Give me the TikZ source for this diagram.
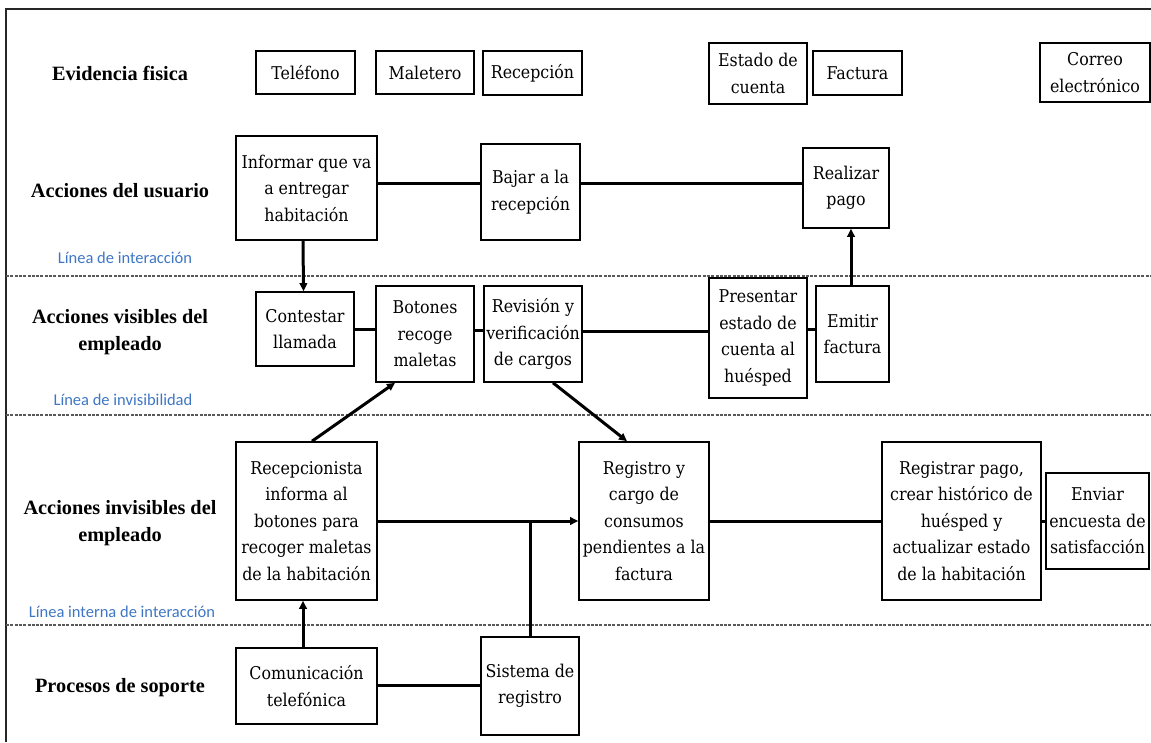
\documentclass[tikz,border=0pt]{standalone}
\usepackage{fontspec}
\newfontfamily\boxfont{DejaVu Serif Condensed}
\newfontfamily\lanefont{Liberation Serif}[BoldFont={* Bold}]
\newfontfamily\linefont{Carlito}
\usetikzlibrary{arrows.meta}
\definecolor{lineblue}{RGB}{62,118,196}
\begin{document}
\begin{tikzpicture}[x=1pt,y=-1pt,
  box/.style={draw, line width=1.6pt, inner sep=0pt, align=center,
    font=\boxfont\fontsize{17.6}{26.5}\selectfont},
  lane/.style={align=center, font=\lanefont\fontsize{20.3}{27}\selectfont\bfseries},
  sep/.style={align=center, text=lineblue, font=\linefont\fontsize{16.5}{19}\selectfont},
  divider/.style={draw=black!65, line width=1.3pt, dash pattern=on 3pt off 1.3pt},
  conn/.style={line width=3pt},
  arr/.style={line width=3pt, -{Triangle[length=8pt,width=7.5pt]}}]
\useasboundingbox (0,0) rectangle (1151,742);
% outer frame (top and left edges)
\draw[line width=1.6pt, black!85] (1151,9) -- (6,9) -- (6,742);
% lane dividers
\draw[divider] (6,276) -- (1151,276);
\draw[divider] (6,415) -- (1151,415);
\draw[divider] (6,625) -- (1151,625);
% lane titles
\node[lane] (lEvid)  at (120,73)    {Evidencia fisica};
\node[lane] (lUsu)   at (120,191)   {Acciones del usuario};
\node[lane] (lVis)   at (120,332.5) {Acciones visibles del\\empleado};
\node[lane] (lInv)   at (120,523)   {Acciones invisibles del\\empleado};
\node[lane] (lSop)   at (120,688)   {Procesos de soporte};
\node[sep]  (sInt)   at (125,258)   {Línea de interacción};
\node[sep]  (sVis)   at (123,400)   {Línea de invisibilidad};
\node[sep]  (sInt2)  at (122,612)   {Línea interna de interacción};
% physical evidence
\node[box, minimum width=99pt,  minimum height=43pt] (tel) at (305.5,72.5) {Teléfono};
\node[box, minimum width=98pt,  minimum height=43pt] (mal) at (425,72.5)   {Maletero};
\node[box, minimum width=99pt,  minimum height=44pt] (rec) at (532.5,73)   {Recepción};
\node[box, minimum width=98pt,  minimum height=61pt] (edc) at (758,73.5)   {Estado de\\cuenta};
\node[box, minimum width=89pt,  minimum height=44pt] (fac) at (857.5,73)   {Factura};
\node[box, minimum width=110pt, minimum height=59pt] (cor) at (1095,72.5)  {Correo\\electrónico};
% user actions
\node[box, minimum width=141pt, minimum height=104pt] (inf) at (306.5,188) {Informar que va\\a entregar\\habitación};
\node[box, minimum width=99pt,  minimum height=96pt]  (baj) at (530.5,192) {Bajar a la\\recepción};
\node[box, minimum width=86pt,  minimum height=80pt]  (rea) at (846,188)   {Realizar\\pago};
% visible employee actions
\node[box, minimum width=98pt, minimum height=74pt]  (con) at (305,329)   {Contestar\\llamada};
\node[box, minimum width=98pt, minimum height=96pt]  (bot) at (425,334)   {Botones\\recoge\\maletas};
\node[box, minimum width=98pt, minimum height=96pt]  (rev) at (533,334)   {Revisión y\\verificación\\de cargos};
\node[box, minimum width=98pt, minimum height=120pt] (pre) at (758,338)   {Presentar\\estado de\\cuenta al\\huésped};
\node[box, minimum width=73pt, minimum height=96pt]  (emi) at (852.5,334) {Emitir\\factura};
% invisible employee actions
\node[box, minimum width=141pt, minimum height=158pt] (rcp) at (306.5,521) {Recepcionista\\informa al\\botones para\\recoger maletas\\de la habitación};
\node[box, minimum width=130pt, minimum height=158pt] (reg) at (644,521)   {Registro y\\cargo de\\consumos\\pendientes a la\\factura};
\node[box, minimum width=159pt, minimum height=158pt] (rpa) at (961.5,521) {Registrar pago,\\crear histórico de\\huésped y\\actualizar estado\\de la habitación};
\node[box, minimum width=103pt, minimum height=96pt]  (env) at (1097.5,521) {Enviar\\encuesta de\\satisfacción};
% support processes
\node[box, minimum width=141pt, minimum height=76pt] (com) at (306.5,686) {Comunicación\\telefónica};
\node[box, minimum width=98pt,  minimum height=98pt] (sis) at (530,686)   {Sistema de\\registro};
% connectors: user actions
\draw[conn] ([yshift=5pt]inf.east) -- ([yshift=5pt]inf.east -| baj.west);
\draw[conn] ([yshift=5pt]rea.west -| baj.east) -- ([yshift=5pt]rea.west);
\draw[arr] ([xshift=-3.5pt]inf.south) -- ([xshift=-1.5pt]con.north);
\draw[arr] ([xshift=-1.5pt]emi.north) -- ([xshift=-1.5pt]emi.north |- rea.south);
% connectors: visible actions
\draw[conn] (con.east) -- (con.east -| bot.west);
\draw[conn] ([yshift=4pt]bot.east) -- ([yshift=4pt]bot.east -| rev.west);
\draw[conn] ([yshift=3pt]rev.east) -- ([yshift=3pt]rev.east -| pre.west);
\draw[conn] ([yshift=9pt]pre.east) -- ([yshift=9pt]pre.east -| emi.west);
\draw[arr] ([xshift=5.5pt]rcp.north) -- ([xshift=-30pt]bot.south);
\draw[arr] ([xshift=20pt]rev.south) -- ([xshift=-17pt]reg.north);
% connectors: invisible actions
\draw[arr] (rcp.east) -- (reg.west);
\draw[conn] (reg.east) -- (rpa.west);
\draw[conn] (rpa.east) -- (env.west);
\coordinate (join) at (sis.north |- rcp.east);
\draw[conn] (sis.north) -- (join);
% connectors: support processes
\draw[arr] ([xshift=-3.5pt]com.north) -- ([xshift=-3.5pt]rcp.south);
\draw[conn] ([yshift=1pt]com.east) -- ([yshift=1pt]com.east -| sis.west);
\end{tikzpicture}
\end{document}
